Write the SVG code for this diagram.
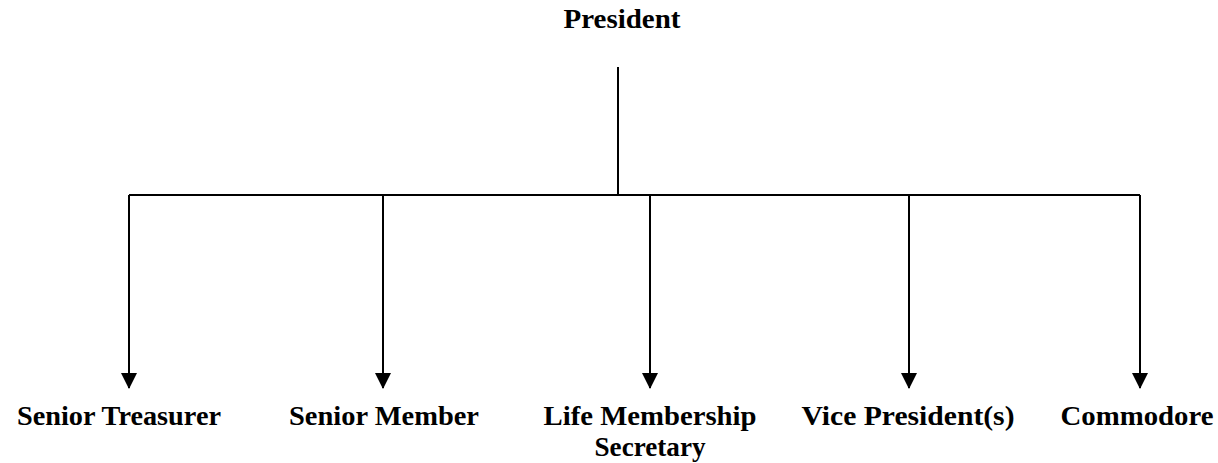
<svg xmlns="http://www.w3.org/2000/svg" width="1218" height="463" viewBox="0 0 1218 463">
<style>
.t{font-family:"Liberation Serif","Times New Roman",serif;font-weight:bold;font-size:27px;fill:#000;text-anchor:middle}
.c{stroke:#000;stroke-width:2;fill:none}
</style>
<defs>
<marker id="ah" markerUnits="userSpaceOnUse" markerWidth="16" markerHeight="16" viewBox="0 0 16 16" refX="15" refY="8" orient="auto">
<path d="M0,0 L16,8 L0,16 Z" fill="#000"/>
</marker>
</defs>
<rect width="1218" height="463" fill="#fff"/>
<g id="connectors">
<line class="c" x1="618" y1="67" x2="618" y2="195"/>
<line class="c" x1="129" y1="195" x2="1140" y2="195"/>
<line class="c" x1="129" y1="195" x2="129" y2="388" marker-end="url(#ah)"/>
<line class="c" x1="383" y1="195" x2="383" y2="388" marker-end="url(#ah)"/>
<line class="c" x1="650" y1="195" x2="650" y2="388" marker-end="url(#ah)"/>
<line class="c" x1="909" y1="195" x2="909" y2="388" marker-end="url(#ah)"/>
<line class="c" x1="1140" y1="195" x2="1140" y2="388" marker-end="url(#ah)"/>
</g>
<g id="president"><text class="t" x="622" y="28" textLength="117" lengthAdjust="spacingAndGlyphs">President</text></g>
<g id="senior-treasurer"><text class="t" x="119" y="425" textLength="204" lengthAdjust="spacingAndGlyphs">Senior Treasurer</text></g>
<g id="senior-member"><text class="t" x="384" y="425" textLength="190" lengthAdjust="spacingAndGlyphs">Senior Member</text></g>
<g id="life-membership-secretary"><text class="t" x="650" y="425" textLength="213" lengthAdjust="spacingAndGlyphs">Life Membership</text><text class="t" x="650" y="456" textLength="111" lengthAdjust="spacingAndGlyphs">Secretary</text></g>
<g id="vice-presidents"><text class="t" x="908" y="425" textLength="213" lengthAdjust="spacingAndGlyphs">Vice President(s)</text></g>
<g id="commodore"><text class="t" x="1137" y="425" textLength="153" lengthAdjust="spacingAndGlyphs">Commodore</text></g>
</svg>
